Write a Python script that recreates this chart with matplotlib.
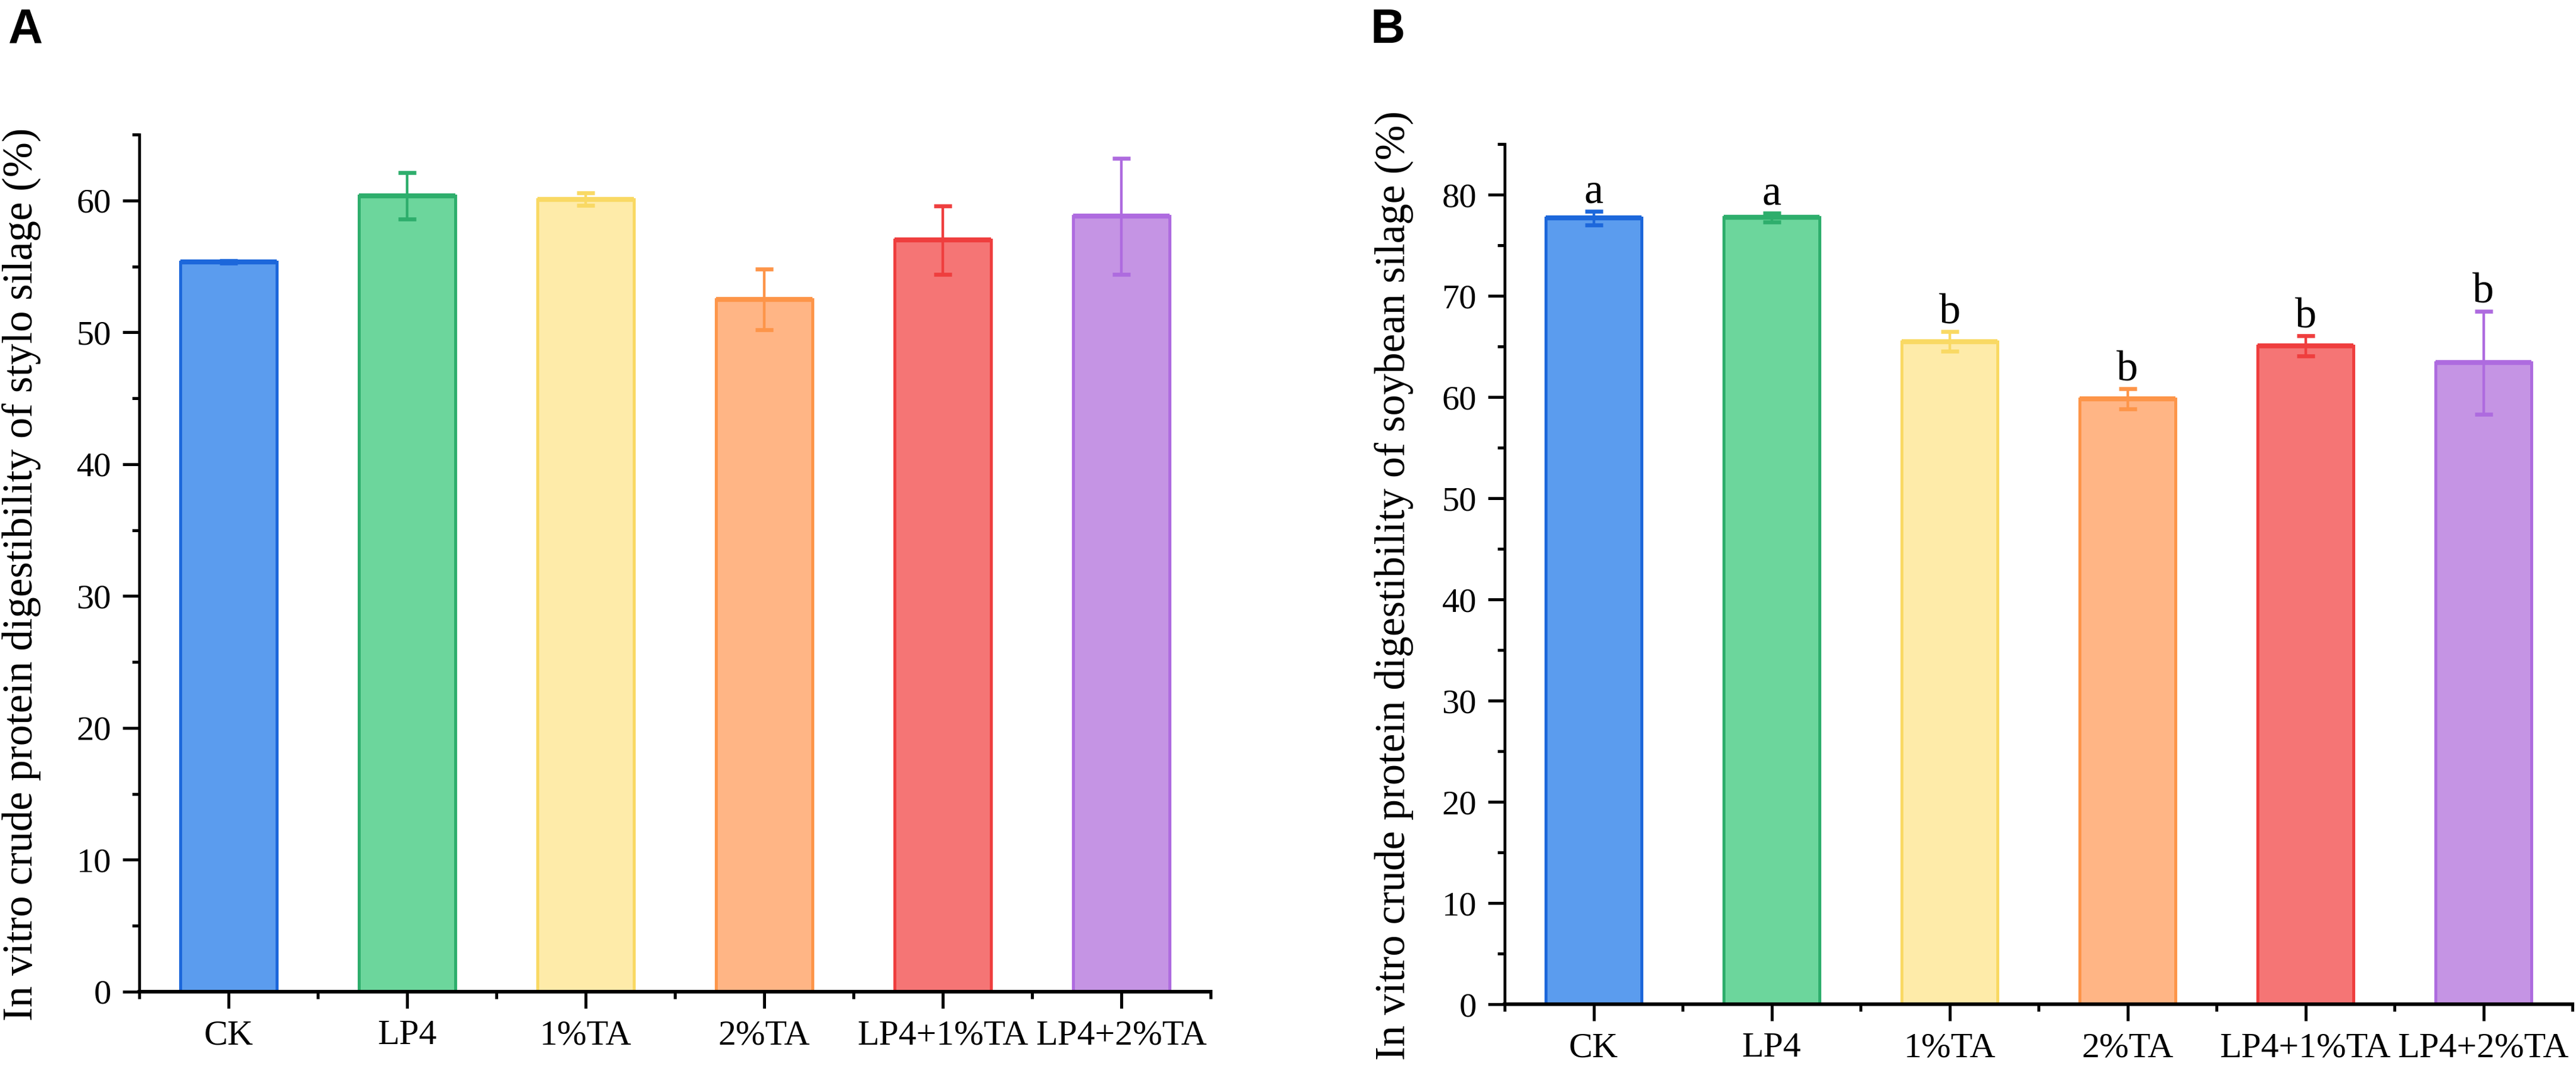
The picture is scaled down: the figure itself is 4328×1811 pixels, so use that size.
import matplotlib
matplotlib.use("Agg")
import matplotlib.pyplot as plt
import numpy as np
from matplotlib.ticker import MultipleLocator, FixedLocator

# ---- data ----
categories = ["CK", "LP4", "1%TA", "2%TA", "LP4+1%TA", "LP4+2%TA"]
stylo_mean = [55.35, 60.35, 60.1, 52.5, 57.0, 58.8]
stylo_err = [0.1, 1.75, 0.48, 2.3, 2.6, 4.4]
soy_mean = [77.7, 77.76, 65.5, 59.82, 65.06, 63.4]
soy_err = [0.68, 0.44, 0.96, 1.0, 0.98, 5.1]
soy_letters = ["a", "a", "b", "b", "b", "b"]
face_colors = ["#5B9CEE", "#6CD69C", "#FEEBA9", "#FFB585", "#F57575", "#C594E4"]
edge_colors = ["#1C67DB", "#2EAE6C", "#F9D964", "#FD9549", "#EF3E3E", "#AE6BDF"]
ylabel_a = "In vitro crude protein digestibility of stylo silage (%)"
ylabel_b = "In vitro crude protein digestibility of soybean silage (%)"

plt.rcParams['font.family'] = ['Liberation Serif', 'DejaVu Serif']

W, H = 4328, 1811
fig = plt.figure(figsize=(W / 200, H / 200), dpi=200)

def px_axes(l, r, b, t):
    return [l / W, (H - b) / H, (r - l) / W, (b - t) / H]

axA = fig.add_axes(px_axes(234, 2034, 1666, 226))
axB = fig.add_axes(px_axes(2528, 4322, 1687, 242))

bar_w = 0.54

def draw(ax, means, errs, ymax, ylabel, label_x, letters=None):
    x = np.arange(len(categories))
    ax.bar(x, means, width=bar_w, color=face_colors, edgecolor=edge_colors,
           linewidth=1.8, zorder=2)
    ax.hlines(means, x - bar_w / 2, x + bar_w / 2, colors=edge_colors,
              linewidth=3.0, zorder=3)
    for i in range(len(categories)):
        eb = ax.errorbar(x[i], means[i], yerr=errs[i], fmt='none',
                         ecolor=edge_colors[i], elinewidth=1.6, capsize=5.5,
                         capthick=2.4, zorder=4)
        for cap in eb[1]:
            cap.set_solid_capstyle('round')
    if letters is not None:
        for i, lt in enumerate(letters):
            ax.annotate(lt, (x[i], means[i] + errs[i]), xytext=(0, 5),
                        textcoords='offset points', ha='center', va='baseline',
                        fontsize=26)
    ax.set_xlim(-0.5, len(categories) - 0.5)
    ax.set_ylim(0, ymax)
    ax.spines['top'].set_visible(False)
    ax.spines['right'].set_visible(False)
    ax.spines['left'].set_linewidth(1.7)
    ax.spines['bottom'].set_linewidth(2.2)
    ax.spines['bottom'].set_zorder(5)
    ax.yaxis.set_major_locator(MultipleLocator(10))
    ax.yaxis.set_minor_locator(MultipleLocator(5))
    ax.set_xticks(x)
    ax.set_xticklabels(categories)
    ax.xaxis.set_minor_locator(FixedLocator(np.arange(-0.5, len(categories), 1.0)))
    ax.tick_params(axis='both', which='major', direction='out', length=10,
                   width=1.8)
    ax.tick_params(axis='both', which='minor', direction='out', length=4.3,
                   width=1.8)
    ax.tick_params(axis='y', which='major', pad=7, labelsize=21)
    ax.tick_params(axis='x', which='major', pad=7, labelsize=21.5)
    ax.set_ylabel(ylabel, fontsize=25.5)
    ax.yaxis.set_label_coords(label_x, 0.487)

draw(axA, stylo_mean, stylo_err, 65, ylabel_a, -0.091)
draw(axB, soy_mean, soy_err, 85, ylabel_b, -0.085, soy_letters)

fig.text(14 / W, 1 - 13 / H, "A", fontsize=29, fontweight='bold',
         family=['Liberation Sans', 'DejaVu Sans'], ha='left', va='top')
fig.text(2303 / W, 1 - 13 / H, "B", fontsize=29, fontweight='bold',
         family=['Liberation Sans', 'DejaVu Sans'], ha='left', va='top')

fig.savefig("out.png", dpi=200)
